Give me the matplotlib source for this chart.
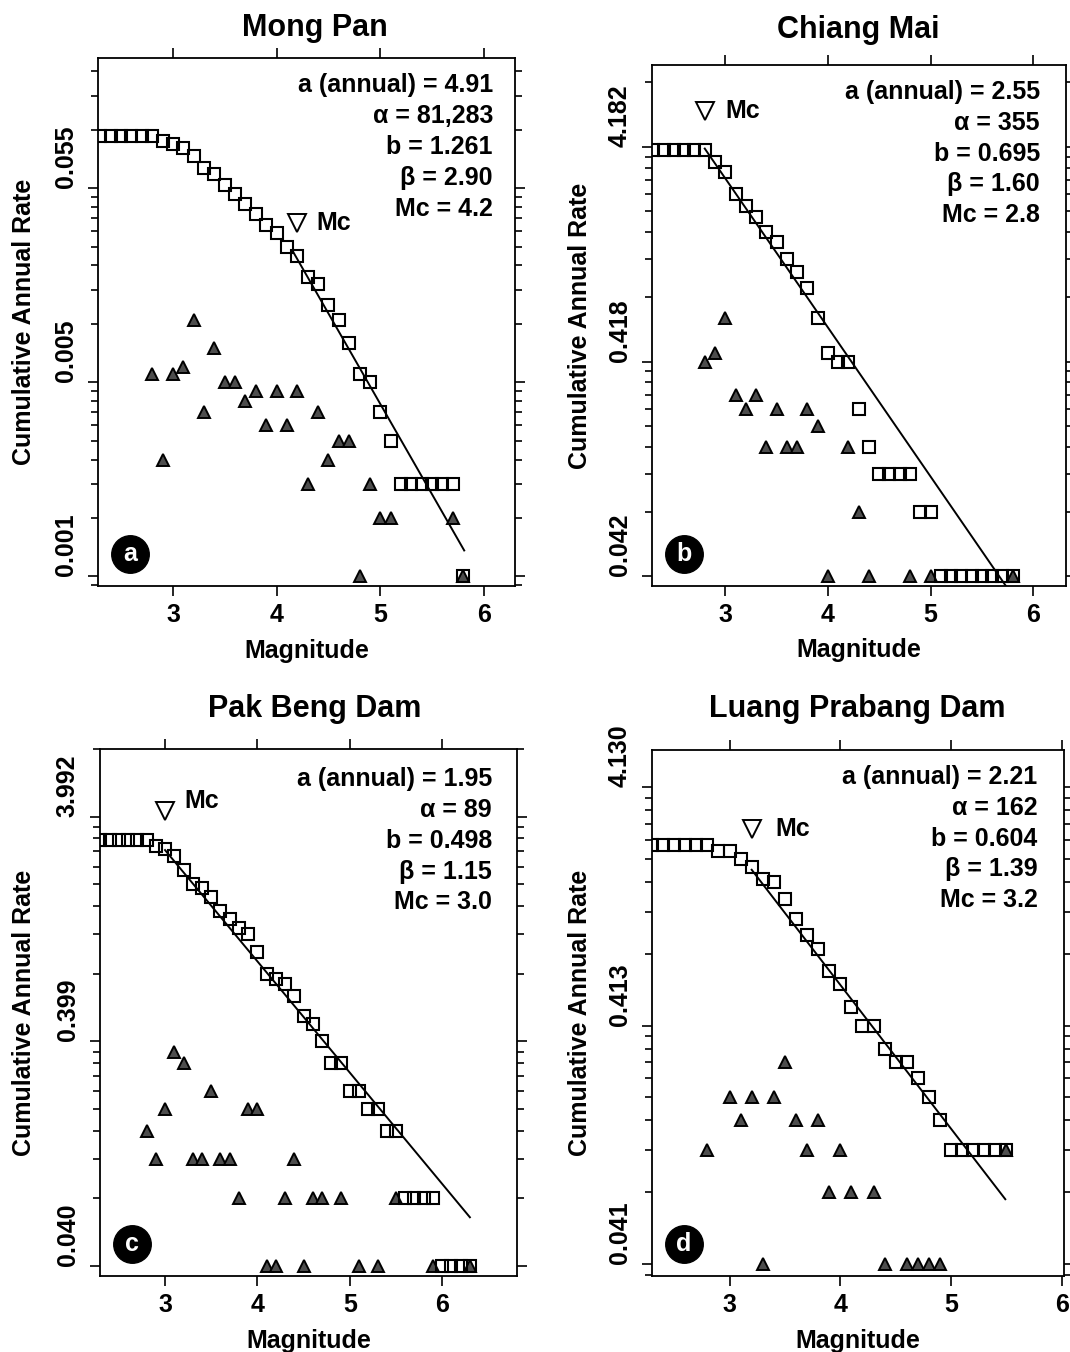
import numpy as np
import matplotlib
matplotlib.use('Agg')
import matplotlib.pyplot as plt
from matplotlib.ticker import FixedLocator, FixedFormatter, LogLocator, NullFormatter

plt.rcParams['font.family'] = ['Liberation Sans', 'DejaVu Sans']
plt.rcParams['font.weight'] = 'bold'

# ---- Mong Pan (a) ----
mp_cum_m = [2.3, 2.4, 2.5, 2.6, 2.7, 2.8, 2.9, 3.0, 3.1, 3.2, 3.3, 3.4, 3.5, 3.6, 3.7, 3.8, 3.9, 4.0,
            4.1, 4.2, 4.3, 4.4, 4.5, 4.6, 4.7, 4.8, 4.9, 5.0, 5.1, 5.2, 5.3, 5.4, 5.5, 5.6, 5.7, 5.8]
mp_cum_n = [185, 185, 185, 185, 185, 185, 175, 170, 161, 146, 127, 119, 104, 93, 83, 74, 65, 59,
            50, 45, 35, 32, 25, 21, 16, 11, 10, 7, 5, 3, 3, 3, 3, 3, 3, 1]
mp_inc_m = [2.8, 2.9, 3.0, 3.1, 3.2, 3.3, 3.4, 3.5, 3.6, 3.7, 3.8, 3.9, 4.0,
            4.1, 4.2, 4.3, 4.4, 4.5, 4.6, 4.7, 4.8, 4.9, 5.0, 5.1, 5.7, 5.8]
mp_inc_n = [11, 4, 11, 12, 21, 7, 15, 10, 10, 8, 9, 6, 9,
            6, 9, 3, 7, 4, 5, 5, 1, 3, 2, 2, 2, 1]
mp_fit_m = [4.15, 5.81]
mp_fit_n = [48, 1.36]
mp_mc = (4.2, 66)
mp_yticklabels = ["0.001", "0.005", "0.055"]
mp_info = ["a (annual) = 4.91", "α = 81,283", "b = 1.261", "β = 2.90", "Mc = 4.2"]

# ---- Chiang Mai (b) ----
cm_cum_m = [2.3, 2.4, 2.5, 2.6, 2.7, 2.8, 2.9, 3.0, 3.1, 3.2, 3.3, 3.4, 3.5, 3.6, 3.7, 3.8, 3.9, 4.0,
            4.1, 4.2, 4.3, 4.4, 4.5, 4.6, 4.7, 4.8, 4.9, 5.0, 5.1, 5.2, 5.3, 5.4, 5.5, 5.6, 5.7, 5.8]
cm_cum_n = [96, 96, 96, 96, 96, 96, 85, 76, 60, 53, 47, 40, 36, 30, 26, 22, 16, 11,
            10, 10, 6, 4, 3, 3, 3, 3, 2, 2, 1, 1, 1, 1, 1, 1, 1, 1]
cm_inc_m = [2.8, 2.9, 3.0, 3.1, 3.2, 3.3, 3.4, 3.5, 3.6, 3.7, 3.8, 3.9, 4.0, 4.2, 4.3, 4.4, 4.8, 5.0, 5.8]
cm_inc_n = [10, 11, 16, 7, 6, 7, 4, 6, 4, 4, 6, 5, 1, 4, 2, 1, 1, 1, 1]
cm_fit_m = [2.8, 5.75]
cm_fit_n = [98, 0.88]
cm_mc = (2.8, 146)
cm_yticklabels = ["0.042", "0.418", "4.182"]
cm_info = ["a (annual) = 2.55", "α = 355", "b = 0.695", "β = 1.60", "Mc = 2.8"]

# ---- Pak Beng Dam (c) ----
pb_cum_m = [2.3, 2.4, 2.5, 2.6, 2.7, 2.8, 2.9, 3.0, 3.1, 3.2, 3.3, 3.4, 3.5, 3.6, 3.7, 3.8, 3.9, 4.0,
            4.1, 4.2, 4.3, 4.4, 4.5, 4.6, 4.7, 4.8, 4.9, 5.0, 5.1, 5.2, 5.3, 5.4, 5.5, 5.6, 5.7, 5.8,
            5.9, 6.0, 6.1, 6.2, 6.3]
pb_cum_n = [79, 79, 79, 79, 79, 79, 74, 72, 67, 58, 50, 48, 44, 38, 35, 32, 30, 25,
            20, 19, 18, 16, 13, 12, 10, 8, 8, 6, 6, 5, 5, 4, 4, 2, 2, 2,
            2, 1, 1, 1, 1]
pb_inc_m = [2.8, 2.9, 3.0, 3.1, 3.2, 3.3, 3.4, 3.5, 3.6, 3.7, 3.8, 3.9, 4.0,
            4.1, 4.2, 4.3, 4.4, 4.5, 4.6, 4.7, 4.9, 5.1, 5.3, 5.5, 5.9, 6.3]
pb_inc_n = [4, 3, 5, 9, 8, 3, 3, 6, 3, 3, 2, 5, 5,
            1, 1, 2, 3, 1, 2, 2, 2, 1, 1, 2, 1, 1]
pb_fit_m = [3.0, 6.30]
pb_fit_n = [71, 1.65]
pb_mc = (3.0, 106)
pb_yticklabels = ["0.040", "0.399", "3.992"]
pb_info = ["a (annual) = 1.95", "α = 89", "b = 0.498", "β = 1.15", "Mc = 3.0"]

# ---- Luang Prabang Dam (d) ----
lp_cum_m = [2.3, 2.4, 2.5, 2.6, 2.7, 2.8, 2.9, 3.0, 3.1, 3.2, 3.3, 3.4, 3.5, 3.6, 3.7, 3.8, 3.9, 4.0,
            4.1, 4.2, 4.3, 4.4, 4.5, 4.6, 4.7, 4.8, 4.9, 5.0, 5.1, 5.2, 5.3, 5.4, 5.5]
lp_cum_n = [57, 57, 57, 57, 57, 57, 54, 54, 50, 46, 41, 40, 34, 28, 24, 21, 17, 15,
            12, 10, 10, 8, 7, 7, 6, 5, 4, 3, 3, 3, 3, 3, 3]
lp_inc_m = [2.8, 3.0, 3.1, 3.2, 3.3, 3.4, 3.5, 3.6, 3.7, 3.8, 3.9, 4.0, 4.1,
            4.3, 4.4, 4.6, 4.7, 4.8, 4.9, 5.5]
lp_inc_n = [3, 5, 4, 5, 1, 5, 7, 4, 3, 4, 2, 3, 2,
            2, 1, 1, 1, 1, 1, 3]
lp_fit_m = [3.2, 5.49]
lp_fit_n = [45, 1.87]
lp_mc = (3.2, 67)
lp_yticklabels = ["0.041", "0.413", "4.130"]
lp_info = ["a (annual) = 2.21", "α = 162", "b = 0.604", "β = 1.39", "Mc = 3.2"]

W, H = 1070, 1352
fig = plt.figure(figsize=(W / 100, H / 100), dpi=100)

# layout: box in pixels (left, right, top, bottom), xlim, ylim, text positions
panels = [
    dict(title="Mong Pan", tx=315, ty=36, box=(98, 515, 58, 586), xlim=(2.277, 6.30), ylim=(0.892, 469),
         cum=(mp_cum_m, mp_cum_n), inc=(mp_inc_m, mp_inc_n), fit=(mp_fit_m, mp_fit_n), mc=mp_mc,
         mc_off=(14, 0), ylabels=mp_yticklabels, info=mp_info, info_xy=(0.947, 0.949, 0.0587),
         letter="a", ylab_x=-0.149),
    dict(title="Chiang Mai", tx=858, ty=38, box=(652, 1066, 65, 586), xlim=(2.286, 6.32), ylim=(0.902, 240),
         cum=(cm_cum_m, cm_cum_n), inc=(cm_inc_m, cm_inc_n), fit=(cm_fit_m, cm_fit_n), mc=cm_mc,
         mc_off=(15, 0), ylabels=cm_yticklabels, info=cm_info, info_xy=(0.937, 0.948, 0.0591),
         letter="b", ylab_x=-0.145),
    dict(title="Pak Beng Dam", tx=315, ty=717, box=(100, 517, 749, 1276), xlim=(2.296, 6.81), ylim=(0.904, 200),
         cum=(pb_cum_m, pb_cum_n), inc=(pb_inc_m, pb_inc_n), fit=(pb_fit_m, pb_fit_n), mc=pb_mc,
         mc_off=(14, 7), ylabels=pb_yticklabels, info=pb_info, info_xy=(0.940, 0.943, 0.0585),
         letter="c", ylab_x=-0.153),
    dict(title="Luang Prabang Dam", tx=857, ty=717, box=(652, 1064, 750, 1276), xlim=(2.30, 6.02), ylim=(0.891, 143),
         cum=(lp_cum_m, lp_cum_n), inc=(lp_inc_m, lp_inc_n), fit=(lp_fit_m, lp_fit_n), mc=lp_mc,
         mc_off=(17, 0), ylabels=lp_yticklabels, info=lp_info, info_xy=(0.936, 0.949, 0.0587),
         letter="d", ylab_x=-0.145),
]

for p in panels:
    l, r, t, b = p['box']
    ax = fig.add_axes([l / W, 1 - b / H, (r - l) / W, (b - t) / H])
    ax.set_yscale('log')

    ax.plot(p['fit'][0], p['fit'][1], color='black', lw=1.4, zorder=2)
    ax.plot(p['inc'][0], p['inc'][1], ls='none', marker='^', ms=8.5, mfc='0.3', mec='black', mew=1.4, zorder=3)
    ax.plot(p['cum'][0], p['cum'][1], ls='none', marker='s', ms=9, mfc='none', mec='black', mew=1.5, zorder=4)
    ax.plot([p['mc'][0]], [p['mc'][1]], ls='none', marker='v', ms=13, mfc='white', mec='black', mew=1.4, zorder=5)
    ax.annotate("Mc", p['mc'], xytext=p['mc_off'], textcoords='offset points',
                ha='left', va='center', fontsize=18, fontweight='bold')

    ax.set_xlim(*p['xlim'])
    ax.set_ylim(*p['ylim'])
    ax.set_xticks([3, 4, 5, 6])
    ax.yaxis.set_major_locator(FixedLocator([1, 10, 100]))
    ax.yaxis.set_major_formatter(FixedFormatter(p['ylabels']))
    ax.yaxis.set_minor_locator(LogLocator(base=10, subs=np.arange(2, 10)))
    ax.yaxis.set_minor_formatter(NullFormatter())
    ax.tick_params(which='both', direction='out', top=True, right=True, width=1.2, labelsize=18)
    ax.tick_params(which='major', length=7.5)
    ax.tick_params(which='minor', length=5)
    ax.tick_params(axis='x', pad=5)
    ax.tick_params(axis='y', pad=7)
    for lab in ax.get_yticklabels():
        lab.set_rotation(90)
        lab.set_va('bottom')
    for s in ax.spines.values():
        s.set_linewidth(1.3)

    ax.set_xlabel("Magnitude", fontsize=18, fontweight='bold')
    ax.xaxis.set_label_coords(0.5, -0.10)
    ax.set_ylabel("Cumulative Annual Rate", fontsize=18, fontweight='bold')
    ax.yaxis.set_label_coords(p['ylab_x'], 0.5)

    ix, iy, dy = p['info_xy']
    for i, line in enumerate(p['info']):
        ax.text(ix, iy - i * dy, line, transform=ax.transAxes, ha='right', va='center',
                fontsize=18, fontweight='bold')

    # panel letter in black circle
    ax.plot([0.077], [0.061], marker='o', ms=27, color='black', transform=ax.transAxes, clip_on=False, zorder=6)
    ax.text(0.077, 0.061, p['letter'], transform=ax.transAxes, color='white', ha='center', va='center',
            fontsize=18, fontweight='bold', zorder=7)

    fig.text(p['tx'] / W, 1 - p['ty'] / H, p['title'], ha='center', va='baseline',
             fontsize=22, fontweight='bold')

fig.savefig('out.png', dpi=100, facecolor='white')
